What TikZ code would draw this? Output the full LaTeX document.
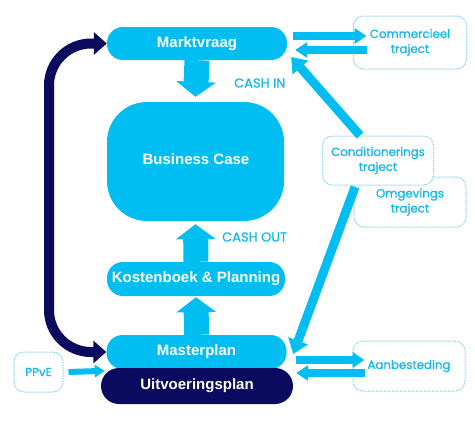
\documentclass[tikz,border=0pt]{standalone}
\usepackage{fontspec}
\setmainfont{Liberation Sans}
\newfontfamily\sidefont[FakeBold=0.7]{Poppins}
\usetikzlibrary{arrows.meta}
\definecolor{cy}{HTML}{00BEF2}
\definecolor{nv}{HTML}{0A0A5E}
\definecolor{cytext}{HTML}{14B6EC}
\definecolor{cyline}{HTML}{7ACDEE}
\tikzset{
  pill/.style={fill=cy, text=white, font=\fontsize{15}{18}\selectfont\bfseries, rounded corners=16pt, inner sep=0pt},
  sidebox/.style={draw=cyline, dash pattern=on 0.8pt off 0.8pt, line width=1pt, rounded corners=10pt, fill=white, text=cytext, font=\sidefont\fontsize{11.8}{15}\selectfont, align=center, inner sep=0pt},
  cashlabel/.style={text=cytext, font=\sidefont\fontsize{13}{15}\selectfont, inner sep=0pt, anchor=west},
  bigarrow/.style={draw=cy, line width=25pt, -{Triangle[width=39pt 0 0, length=15pt 0 0]}},
  sidearrow/.style={draw=cy, line width=8pt, -{Triangle[width=15pt 0 0, length=12pt 0 0]}},
  smallarrow/.style={draw=cy, line width=6pt, -{Triangle[width=12pt 0 0, length=10pt 0 0]}},
  diagarrow/.style={draw=cy, line width=9pt, -{Triangle[width=20pt 0 0, length=14pt 0 0]}},
  navyarrow/.style={draw=nv, line width=10pt, {Triangle[width=22pt 0 0, length=13pt 0 0]}-{Triangle[width=22pt 0 0, length=13pt 0 0]}},
}
\begin{document}
\begin{tikzpicture}[x=1pt,y=-1pt]
\useasboundingbox (0,0) rectangle (475,424);
% main column
\node[pill, minimum width=180pt, minimum height=33pt] (mark) at (197,43.5) {Marktvraag};
\node[pill, rounded corners=40pt, minimum width=177pt, minimum height=119pt] (bc) at (195.5,161.5) {};
\node[text=white, font=\fontsize{15}{18}\selectfont\bfseries, inner sep=0pt] (bctext) at (196,159) {Business Case};
\node[pill, minimum width=178pt, minimum height=34pt] (kost) at (196,279) {Kostenboek \& Planning};
\node[pill, minimum width=180pt, minimum height=34pt] (master) at (196.5,352) {Masterplan};
\node[pill, fill=nv, rounded corners=18pt, minimum width=192pt, minimum height=36pt] (uitv) at (197,386) {Uitvoeringsplan};
% side boxes
\node[sidebox, minimum width=113pt, minimum height=53pt] (comm) at (410,42.5) {Commercieel\\traject};
\node[sidebox, minimum width=112pt, minimum height=50pt] (omg) at (410,202) {Omgevings\\traject};
\node[sidebox, minimum width=111pt, minimum height=49pt] (cond) at (378,160.5) {Conditionerings\\traject};
\node[sidebox, minimum width=112pt, minimum height=50pt] (aanb) at (409,366) {Aanbesteding};
\node[sidebox, minimum width=49pt, minimum height=40pt] (ppve) at (38.5,372) {PPvE};
% labels
\node[cashlabel] (cashin) at (234,83) {CASH IN};
\node[cashlabel] (cashout) at (222,237) {CASH OUT};
% vertical block arrows
\draw[bigarrow] (mark.south) -- ([yshift=5pt]bc.north);
\draw[bigarrow] (kost.north) -- ([yshift=-3pt]bc.south);
\draw[bigarrow] (master.north) -- ([yshift=-1pt]kost.south);
% navy loop
\coordinate (lft) at (49,200);
\draw[navyarrow, rounded corners=42pt] (mark.west) -| (lft) |- (master.west);
% side arrows
\draw[sidearrow] ([shift={(6pt,7.5pt)}]mark.east) -- ([shift={(13.5pt,6.5pt)}]comm.west);
\draw[sidearrow] ([shift={(13.5pt,-7.5pt)}]comm.west) -- ([shift={(8pt,-6.5pt)}]mark.east);
\draw[sidearrow] ([shift={(9.5pt,-8pt)}]master.east) -- ([shift={(12pt,6pt)}]aanb.west);
\draw[sidearrow] ([shift={(12pt,-7pt)}]aanb.west) -- ([shift={(3pt,13pt)}]uitv.east);
\draw[smallarrow] ([shift={(5pt,0pt)}]ppve.east) -- ([shift={(4pt,-3pt)}]uitv.north west);
% diagonal arrows
\draw[diagarrow] ([xshift=-18pt]cond.north) -- ([shift={(4pt,-13.5pt)}]mark.east);
\draw[diagarrow] ([shift={(-23pt,-1.5pt)}]cond.south) -- ([shift={(6.5pt,-2pt)}]master.east);
\end{tikzpicture}
\end{document}
